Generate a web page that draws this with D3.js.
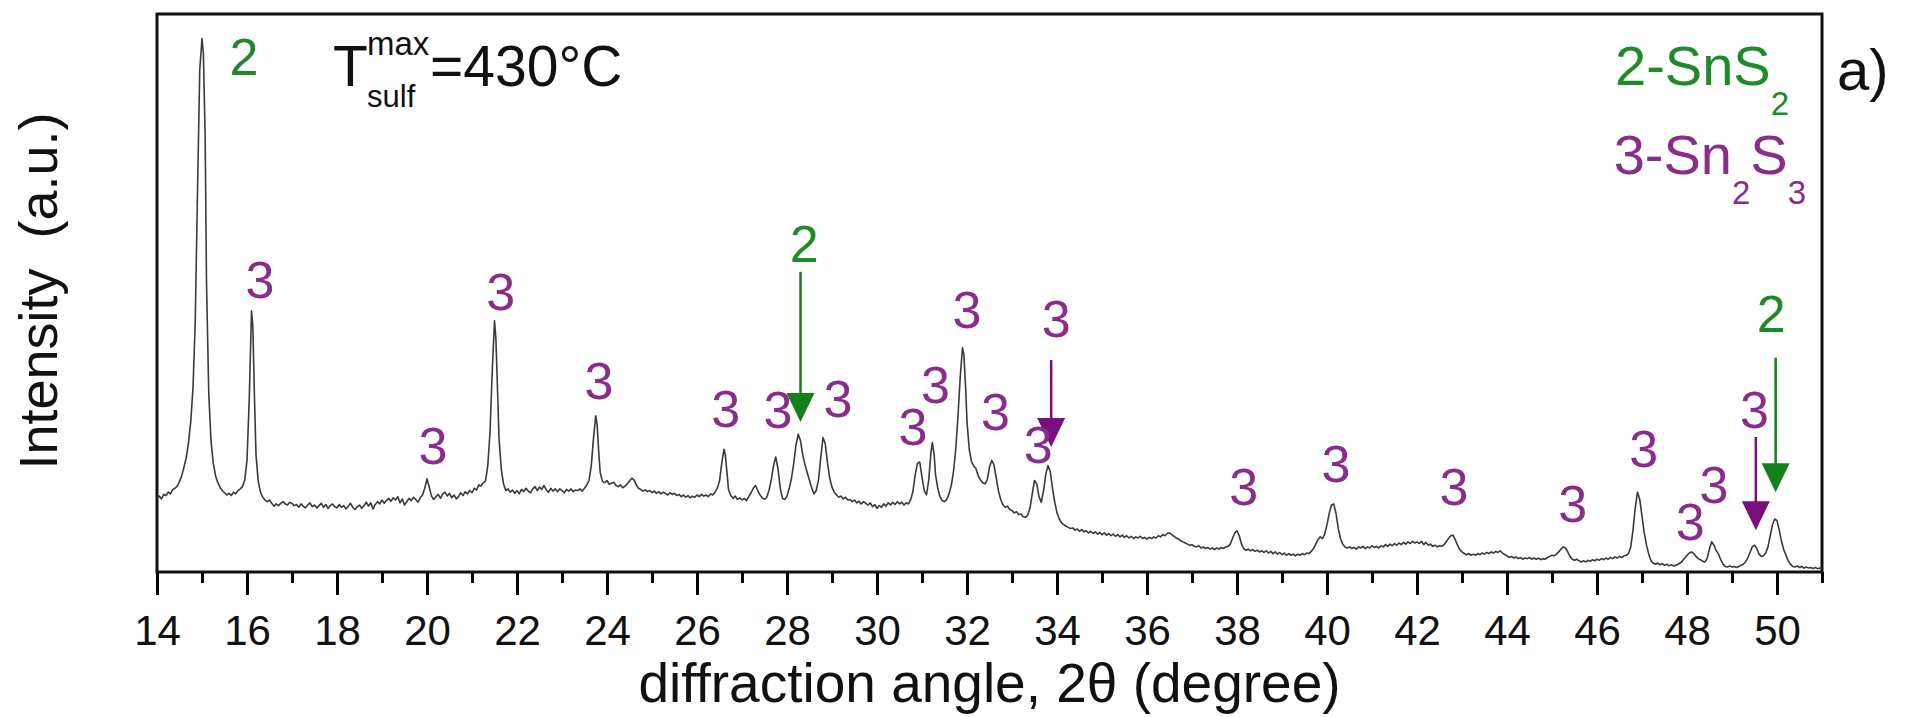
<!DOCTYPE html>
<html>
<head>
<meta charset="utf-8">
<script src="https://cdn.jsdelivr.net/npm/d3@7"></script>
<style>
  body { margin: 0; background: #fff; }
  text { font-family: "Liberation Sans", Arial, sans-serif; }
</style>
</head>
<body>
<div id="chart"></div>
<script>
// XRD pattern: [2theta, intensity (a.u., frame = 0..100)]
const pattern = [
  [14.0,13.2],[14.05,13.6],[14.1,13.1],[14.15,13.9],[14.2,13.7],[14.25,14.3],[14.3,14.0],[14.35,14.8],[14.4,15.0],[14.45,15.4],
  [14.5,16.2],[14.55,17.3],[14.6,18.8],[14.65,20.5],[14.7,23.2],[14.75,27],[14.8,33],[14.85,45],[14.9,68],[14.95,90],
  [15.0,95.6],[15.03,93],[15.07,78],[15.1,52],[15.15,32],[15.2,23.5],[15.25,19.5],[15.3,17.3],[15.35,16.0],[15.4,15.2],
  [15.45,14.6],[15.5,14.2],[15.55,13.8],[15.6,14.1],[15.65,13.7],[15.7,14.3],[15.75,14.0],[15.8,14.6],[15.85,14.9],[15.9,15.3],
  [15.95,16.5],[16.0,20],[16.05,31],[16.1,46.8],[16.13,44],[16.17,30],[16.2,21],[16.25,16.2],[16.3,14.3],[16.35,13.4],
  [16.4,12.9],[16.45,12.6],[16.5,12.9],[16.55,12.3],[16.6,11.8],[16.65,12.2],[16.7,11.9],[16.75,12.3],[16.8,12.6],[16.85,12.2],
  [16.9,12.0],[16.95,12.5],[17.0,12.3],[17.05,11.9],[17.1,12.1],[17.15,11.6],[17.2,12.2],[17.25,11.8],[17.3,11.5],[17.35,12.0],
  [17.4,12.4],[17.45,11.7],[17.5,12.0],[17.55,11.5],[17.6,11.9],[17.65,12.3],[17.7,11.6],[17.75,12.1],[17.8,11.4],[17.85,11.9],
  [17.9,12.2],[17.95,11.7],[18.0,11.5],[18.05,12.1],[18.1,11.6],[18.15,11.9],[18.2,11.3],[18.25,11.8],[18.3,12.3],[18.35,11.6],
  [18.4,11.2],[18.45,11.7],[18.5,12.0],[18.55,11.4],[18.6,11.9],[18.65,12.5],[18.7,11.8],[18.75,12.4],[18.8,11.3],[18.85,12.1],
  [18.9,12.6],[18.95,12.2],[19.0,12.9],[19.05,12.3],[19.1,12.8],[19.15,13.2],[19.2,12.7],[19.25,13.3],[19.3,12.9],[19.35,13.5],
  [19.4,12.4],[19.45,13.1],[19.5,12.0],[19.55,12.6],[19.6,13.2],[19.65,12.8],[19.7,13.4],[19.75,13.0],[19.8,12.5],[19.85,13.3],
  [19.9,13.8],[19.95,15.0],[20.0,16.7],[20.05,15.2],[20.1,13.6],[20.15,13.0],[20.2,13.5],[20.25,13.9],[20.3,13.2],[20.35,14.0],
  [20.4,14.3],[20.45,13.6],[20.5,14.1],[20.55,13.3],[20.6,13.8],[20.65,13.1],[20.7,13.5],[20.75,14.2],[20.8,13.7],[20.85,14.4],
  [20.9,14.0],[20.95,14.6],[21.0,14.2],[21.05,15.0],[21.1,14.7],[21.15,15.6],[21.2,15.4],[21.25,16.0],[21.3,16.3],[21.35,19],
  [21.4,25],[21.45,36],[21.5,45],[21.53,42],[21.57,32],[21.6,24],[21.65,18.5],[21.7,15.8],[21.75,14.6],[21.8,14.9],
  [21.85,14.3],[21.9,14.7],[21.95,14.1],[22.0,14.6],[22.05,14.0],[22.1,14.8],[22.15,14.4],[22.2,15.0],[22.25,14.5],[22.3,14.2],
  [22.35,14.9],[22.4,15.3],[22.45,14.6],[22.5,15.2],[22.55,14.8],[22.6,15.5],[22.65,14.7],[22.7,14.3],[22.75,15.0],[22.8,14.5],
  [22.85,14.9],[22.9,14.4],[22.95,14.9],[23.0,14.6],[23.05,14.2],[23.1,14.8],[23.15,14.5],[23.2,14.9],[23.25,14.4],[23.3,14.7],
  [23.35,14.6],[23.4,14.9],[23.45,14.5],[23.5,15.0],[23.55,15.6],[23.6,16.4],[23.65,19],[23.7,24],[23.75,28],[23.78,26.5],
  [23.82,21],[23.85,17.8],[23.9,16.2],[23.95,16.0],[24.0,16.4],[24.05,15.7],[24.1,15.9],[24.15,16.1],[24.2,15.5],[24.25,15.3],
  [24.3,15.6],[24.35,15.1],[24.4,15.4],[24.45,15.8],[24.5,16.3],[24.55,16.8],[24.6,16.5],[24.65,15.6],[24.7,15.0],[24.75,14.8],
  [24.8,14.5],[24.85,14.7],[24.9,14.4],[24.95,14.6],[25.0,14.2],[25.05,14.5],[25.1,14.1],[25.15,14.4],[25.2,14.0],[25.25,14.3],
  [25.3,14.1],[25.35,13.8],[25.4,14.2],[25.45,13.9],[25.5,14.1],[25.55,13.7],[25.6,13.9],[25.65,13.5],[25.7,13.8],[25.75,13.4],
  [25.8,13.7],[25.85,13.3],[25.9,13.6],[25.95,13.4],[26.0,13.8],[26.05,13.5],[26.1,13.9],[26.15,13.6],[26.2,13.8],[26.25,13.5],
  [26.3,14.0],[26.35,13.8],[26.4,14.3],[26.45,15.0],[26.5,16.3],[26.55,19.5],[26.6,22],[26.63,21],[26.67,17.5],[26.7,14.8],
  [26.75,13.7],[26.8,13.2],[26.85,13.6],[26.9,13.0],[26.95,13.3],[27.0,12.9],[27.05,13.2],[27.1,12.8],[27.15,13.5],[27.2,14.2],
  [27.25,15.0],[27.3,15.5],[27.35,14.6],[27.4,13.8],[27.45,13.3],[27.5,13.0],[27.55,13.4],[27.6,14.6],[27.65,16.5],[27.7,19.0],
  [27.75,20.6],[27.8,18.5],[27.85,15.0],[27.9,13.2],[27.95,13.0],[28.0,13.6],[28.05,15.0],[28.1,16.8],[28.15,19.5],[28.2,22.8],
  [28.25,24.7],[28.3,23.5],[28.35,21],[28.4,19.2],[28.45,17.8],[28.5,16.4],[28.55,15.0],[28.6,14.0],[28.65,14.6],[28.7,16.5],
  [28.75,20.5],[28.8,24.1],[28.85,23.0],[28.9,19.5],[28.95,16.8],[29.0,15.2],[29.05,14.3],[29.1,13.8],[29.15,13.4],[29.2,13.6],
  [29.25,13.1],[29.3,13.4],[29.35,12.9],[29.4,13.0],[29.45,12.6],[29.5,12.9],[29.55,12.4],[29.6,12.7],[29.65,12.2],[29.7,12.6],
  [29.75,12.3],[29.8,12.0],[29.85,12.4],[29.9,11.7],[29.95,12.1],[30.0,11.4],[30.05,11.9],[30.1,11.6],[30.15,12.2],[30.2,11.8],
  [30.25,12.4],[30.3,12.0],[30.35,12.5],[30.4,12.1],[30.45,12.6],[30.5,12.2],[30.55,12.5],[30.6,12.0],[30.65,12.4],[30.7,12.2],
  [30.75,13.0],[30.8,14.5],[30.85,17.5],[30.9,19.5],[30.95,19.7],[31.0,17.0],[31.05,14.6],[31.1,13.8],[31.15,16.5],[31.2,21.5],
  [31.23,23.2],[31.27,21.0],[31.3,17.5],[31.35,15.0],[31.4,13.5],[31.45,12.8],[31.5,12.6],[31.55,13.0],[31.6,14.0],[31.65,15.5],
  [31.7,18.0],[31.75,22],[31.8,28],[31.85,35],[31.9,40.2],[31.93,39],[31.97,33],[32.0,27],[32.05,22],[32.1,19.8],
  [32.15,19.0],[32.2,18.5],[32.25,17.2],[32.3,16.5],[32.35,16.0],[32.4,15.8],[32.45,16.5],[32.5,18.8],[32.55,20.0],[32.6,19.2],
  [32.65,16.8],[32.7,14.5],[32.75,13.0],[32.8,12.0],[32.85,11.6],[32.9,11.8],[32.95,11.2],[33.0,11.0],[33.05,10.6],[33.1,10.8],
  [33.15,10.3],[33.2,10.4],[33.25,9.9],[33.3,9.8],[33.35,10.2],[33.4,11.5],[33.45,14.0],[33.5,16.4],[33.55,15.8],[33.6,13.5],
  [33.65,12.5],[33.7,14.5],[33.75,17.5],[33.8,19.1],[33.85,18.0],[33.9,15.0],[33.95,12.5],[34.0,10.6],[34.05,9.5],[34.1,8.8],
  [34.15,8.5],[34.2,8.2],[34.25,8.0],[34.3,7.8],[34.35,7.9],[34.4,7.5],[34.45,7.7],[34.5,7.3],[34.55,7.6],[34.6,7.2],
  [34.65,7.4],[34.7,7.0],[34.75,7.3],[34.8,6.9],[34.85,7.2],[34.9,6.8],[34.95,7.1],[35.0,6.7],[35.05,7.0],[35.1,6.6],
  [35.15,6.9],[35.2,6.5],[35.25,6.8],[35.3,6.4],[35.35,6.7],[35.4,6.3],[35.45,6.6],[35.5,6.2],[35.55,6.5],[35.6,6.1],
  [35.65,6.4],[35.7,6.0],[35.75,6.3],[35.8,6.1],[35.85,6.4],[35.9,6.0],[35.95,6.2],[36.0,5.9],[36.05,6.2],[36.1,6.0],
  [36.15,6.3],[36.2,6.1],[36.25,6.5],[36.3,6.3],[36.35,6.7],[36.4,6.5],[36.45,6.9],[36.5,7.0],[36.55,6.7],[36.6,6.4],
  [36.65,6.1],[36.7,5.9],[36.75,5.6],[36.8,5.4],[36.85,5.2],[36.9,5.0],[36.95,4.8],[37.0,4.9],[37.05,4.6],[37.1,4.5],
  [37.15,4.7],[37.2,4.3],[37.25,4.5],[37.3,4.2],[37.35,4.4],[37.4,4.1],[37.45,4.3],[37.5,4.0],[37.55,4.3],[37.6,4.1],
  [37.65,4.4],[37.7,4.2],[37.75,4.5],[37.8,4.6],[37.85,5.0],[37.9,6.0],[37.95,7.0],[38.0,7.4],[38.05,6.5],[38.1,5.0],
  [38.15,4.2],[38.2,3.9],[38.25,4.1],[38.3,3.8],[38.35,4.0],[38.4,3.7],[38.45,3.9],[38.5,3.6],[38.55,3.8],[38.6,3.5],
  [38.65,3.8],[38.7,3.4],[38.75,3.7],[38.8,3.3],[38.85,3.6],[38.9,3.2],[38.95,3.5],[39.0,3.1],[39.05,3.4],[39.1,3.0],
  [39.15,3.3],[39.2,3.0],[39.25,3.2],[39.3,2.9],[39.35,3.2],[39.4,3.0],[39.45,3.3],[39.5,3.1],[39.55,3.4],[39.6,3.3],
  [39.65,3.7],[39.7,4.2],[39.75,5.0],[39.8,5.8],[39.85,6.3],[39.9,6.0],[39.95,6.8],[40.0,8.5],[40.05,10.5],[40.1,12.0],
  [40.15,12.2],[40.2,10.5],[40.25,7.8],[40.3,6.0],[40.35,5.0],[40.4,4.5],[40.45,4.3],[40.5,4.5],[40.55,4.2],[40.6,4.4],
  [40.65,4.1],[40.7,4.5],[40.75,4.3],[40.8,4.6],[40.85,4.2],[40.9,4.5],[40.95,4.3],[41.0,4.7],[41.05,4.4],[41.1,4.6],
  [41.15,4.3],[41.2,4.7],[41.25,4.5],[41.3,4.9],[41.35,4.6],[41.4,5.0],[41.45,4.7],[41.5,5.1],[41.55,4.8],[41.6,5.2],
  [41.65,4.9],[41.7,5.3],[41.75,5.0],[41.8,5.4],[41.85,5.1],[41.9,5.5],[41.95,5.2],[42.0,5.4],[42.05,5.1],[42.1,5.5],
  [42.15,4.9],[42.2,5.3],[42.25,4.8],[42.3,5.0],[42.35,4.6],[42.4,4.8],[42.45,4.5],[42.5,4.7],[42.55,4.6],[42.6,4.9],
  [42.65,5.4],[42.7,6.0],[42.75,6.5],[42.8,6.6],[42.85,5.8],[42.9,4.8],[42.95,4.0],[43.0,3.6],[43.05,3.3],[43.1,3.1],
  [43.15,3.3],[43.2,3.0],[43.25,3.2],[43.3,3.0],[43.35,3.3],[43.4,3.1],[43.45,3.4],[43.5,3.2],[43.55,3.5],[43.6,3.3],
  [43.65,3.6],[43.7,3.4],[43.75,3.7],[43.8,3.5],[43.85,3.8],[43.9,3.4],[43.95,3.1],[44.0,2.9],[44.05,2.6],[44.1,2.8],
  [44.15,2.5],[44.2,2.7],[44.25,2.4],[44.3,2.6],[44.35,2.3],[44.4,2.5],[44.45,2.4],[44.5,2.6],[44.55,2.3],[44.6,2.5],
  [44.65,2.3],[44.7,2.5],[44.75,2.2],[44.8,2.4],[44.85,2.3],[44.9,2.6],[44.95,2.8],[45.0,3.0],[45.05,2.9],[45.1,3.2],
  [45.15,3.6],[45.2,4.1],[45.25,4.5],[45.3,4.3],[45.35,3.6],[45.4,2.8],[45.45,2.3],[45.5,2.1],[45.55,2.3],[45.6,2.0],
  [45.65,1.8],[45.7,2.0],[45.75,1.8],[45.8,2.1],[45.85,1.9],[45.9,2.2],[45.95,2.0],[46.0,2.3],[46.05,2.1],[46.1,2.4],
  [46.15,2.2],[46.2,2.5],[46.25,2.3],[46.3,2.6],[46.35,2.4],[46.4,2.7],[46.45,2.5],[46.5,2.8],[46.55,2.6],[46.6,2.9],
  [46.65,3.0],[46.7,3.3],[46.75,4.5],[46.8,7.5],[46.85,11.5],[46.9,14.3],[46.95,13.0],[47.0,10.0],[47.05,7.0],[47.1,4.8],
  [47.15,3.2],[47.2,2.0],[47.25,1.6],[47.3,1.4],[47.35,1.6],[47.4,1.3],[47.45,1.5],[47.5,1.2],[47.55,1.4],[47.6,1.1],
  [47.65,1.3],[47.7,1.1],[47.75,1.2],[47.8,1.4],[47.85,1.6],[47.9,2.0],[47.95,2.5],[48.0,3.0],[48.05,3.4],[48.1,3.6],
  [48.15,3.3],[48.2,2.8],[48.25,2.4],[48.3,2.2],[48.35,1.9],[48.4,1.8],[48.45,2.5],[48.5,4.2],[48.55,5.4],[48.6,4.8],
  [48.65,3.8],[48.7,3.2],[48.75,2.2],[48.8,1.4],[48.85,1.0],[48.9,0.9],[48.95,1.1],[49.0,0.9],[49.05,1.0],[49.1,0.8],
  [49.15,1.0],[49.2,1.2],[49.25,1.4],[49.3,1.8],[49.35,2.5],[49.4,3.5],[49.45,4.5],[49.5,4.8],[49.55,4.2],[49.6,3.2],
  [49.65,2.8],[49.7,2.9],[49.75,3.4],[49.8,4.5],[49.85,6.5],[49.9,8.5],[49.95,9.5],[50.0,9.2],[50.05,7.5],[50.1,5.5],
  [50.15,4.0],[50.2,3.0],[50.25,2.0],[50.3,1.4],[50.35,1.0],[50.4,0.9],[50.45,1.1],[50.5,0.8],[50.55,1.0],[50.6,0.7],
  [50.65,0.9],[50.7,0.7],[50.75,0.8],[50.8,0.6],[50.85,0.8],[50.9,0.6],[50.95,0.7],[51.0,0.6]
];

// peak labels: [2theta of label centre, intensity of label baseline]
const sns2Labels = [[15.93, 89.1], [28.38, 55.6], [49.87, 43.0]];
const sn2s3Labels = [
  [16.29, 49.1], [20.13, 19.3], [21.64, 47.0], [23.82, 31.0], [26.64, 26.0], [27.8, 25.8], [29.13, 27.8],
  [30.8, 22.8], [31.3, 30.3], [32.0, 43.7], [32.63, 25.4], [33.58, 19.5], [33.98, 42.1], [38.15, 12.0],
  [40.2, 16.1], [42.82, 12.0], [45.46, 9.0], [47.04, 18.8], [48.07, 5.7], [48.6, 12.4], [49.5, 25.8]
];

// arrows: [2theta, top intensity, tip intensity, phase]
const arrows = [[28.3, 53.8, 26.9, 2], [33.87, 38.0, 22.4, 3], [49.53, 24.2, 7.5, 3], [49.97, 38.4, 14.3, 2]];

const majorTicks = d3.range(14, 51, 2);
const minorTicks = d3.range(15, 52, 2);

const green = "#1f8a2a";
const purple = "#8a2c8c";
const purpleDark = "#7a0e7c";

const width = 1907, height = 717;
const margin = { left: 157, right: 85, top: 14, bottom: 145 };

const svg = d3.select("#chart")
  .append("svg")
  .attr("width", width)
  .attr("height", height);

const x = d3.scaleLinear()
  .domain([14, 51])
  .range([margin.left, width - margin.right]);

const y = d3.scaleLinear()
  .domain([0, 100])
  .range([height - margin.bottom, margin.top]);

// minor ticks
svg.append("g")
  .attr("transform", `translate(0,${height - margin.bottom})`)
  .call(d3.axisBottom(x).tickValues(minorTicks).tickSize(11).tickFormat(""))
  .call(g => g.select(".domain").remove())
  .call(g => g.selectAll("line").attr("stroke-width", 3));

// major ticks + labels
svg.append("g")
  .attr("transform", `translate(0,${height - margin.bottom})`)
  .call(d3.axisBottom(x).tickValues(majorTicks).tickSize(23).tickPadding(20).tickFormat(d3.format("d")))
  .call(g => g.select(".domain").remove())
  .call(g => g.selectAll("line").attr("stroke-width", 3))
  .call(g => g.selectAll("text")
    .attr("font-size", 42)
    .attr("font-family", "Liberation Sans, Arial, sans-serif")
    .attr("fill", "#111"));

// frame
svg.append("rect")
  .attr("x", x(14))
  .attr("y", y(100))
  .attr("width", x(51) - x(14))
  .attr("height", y(0) - y(100))
  .attr("fill", "none")
  .attr("stroke", "#111")
  .attr("stroke-width", 3);

// pattern
const line = d3.line()
  .x(d => x(d[0]))
  .y(d => y(d[1]));

svg.append("path")
  .datum(pattern)
  .attr("d", line)
  .attr("fill", "none")
  .attr("stroke", "#3a3a3a")
  .attr("stroke-width", 1.6)
  .attr("stroke-linejoin", "round");

// arrows
arrows.forEach(a => {
  const col = a[3] === 2 ? "#13801c" : purpleDark;
  const cx = x(a[0]);
  const tip = y(a[2]);
  svg.append("line")
    .attr("x1", cx).attr("x2", cx)
    .attr("y1", y(a[1])).attr("y2", tip - 20)
    .attr("stroke", col)
    .attr("stroke-width", 2.5);
  svg.append("path")
    .attr("d", `M${cx - 14},${tip - 29} L${cx + 14},${tip - 29} L${cx},${tip} Z`)
    .attr("fill", col);
});

// peak labels
svg.selectAll(".lab2")
  .data(sns2Labels)
  .enter()
  .append("text")
  .attr("class", "lab2")
  .attr("x", d => x(d[0]))
  .attr("y", d => y(d[1]))
  .attr("text-anchor", "middle")
  .attr("font-size", 52)
  .attr("fill", green)
  .text("2");

svg.selectAll(".lab3")
  .data(sn2s3Labels)
  .enter()
  .append("text")
  .attr("class", "lab3")
  .attr("x", d => x(d[0]))
  .attr("y", d => y(d[1]))
  .attr("text-anchor", "middle")
  .attr("font-size", 52)
  .attr("fill", purple)
  .text("3");

// sulfurization temperature
const tl = svg.append("text").attr("font-size", 57).attr("fill", "#111");
tl.append("tspan").attr("x", 333).attr("y", 86).text("T");
tl.append("tspan").attr("x", 367).attr("y", 55).attr("font-size", 33).text("max");
tl.append("tspan").attr("x", 367).attr("y", 107).attr("font-size", 31).text("sulf");
tl.append("tspan").attr("x", 430).attr("y", 86).text("=430°C");

// legend
const lg1 = svg.append("text").attr("text-anchor", "end").attr("font-size", 56).attr("fill", green)
  .attr("x", 1789).attr("y", 85);
lg1.append("tspan").text("2-SnS");
lg1.append("tspan").attr("font-size", 33).attr("dy", 30).text("2");

const lg2 = svg.append("text").attr("text-anchor", "end").attr("font-size", 56).attr("fill", purple)
  .attr("x", 1806).attr("y", 174);
lg2.append("tspan").text("3-Sn");
lg2.append("tspan").attr("font-size", 33).attr("dy", 30).text("2");
lg2.append("tspan").attr("dy", -30).text("S");
lg2.append("tspan").attr("font-size", 33).attr("dy", 30).text("3");

// panel letter
svg.append("text")
  .attr("x", 1837)
  .attr("y", 90)
  .attr("font-size", 58)
  .attr("fill", "#111")
  .text("a)");

// axis titles
svg.append("text")
  .attr("x", (x(14) + x(51)) / 2)
  .attr("y", 702)
  .attr("text-anchor", "middle")
  .attr("font-size", 55)
  .attr("fill", "#111")
  .text("diffraction angle, 2θ (degree)");

svg.append("text")
  .attr("transform", "translate(57,291) rotate(-90)")
  .attr("text-anchor", "middle")
  .attr("font-size", 54)
  .attr("fill", "#111")
  .style("white-space", "pre")
  .text("Intensity  (a.u.)");
</script>
</body>
</html>
